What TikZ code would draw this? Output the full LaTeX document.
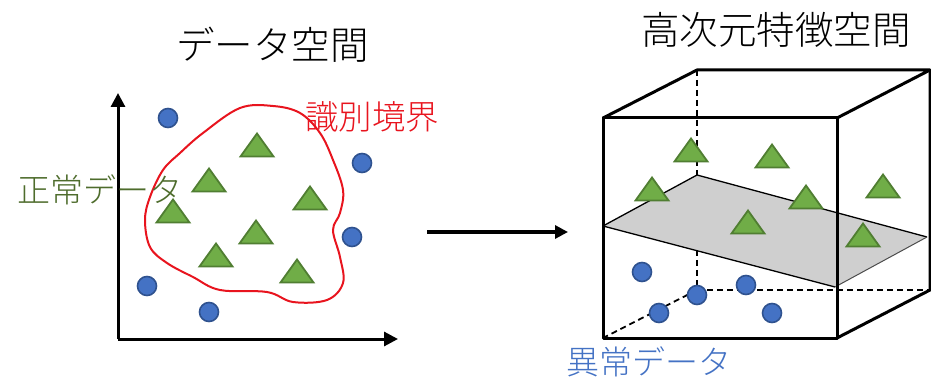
\documentclass[tikz,border=0pt]{standalone}
\usepackage{fontspec}
\IfFontExistsTF{Noto Sans CJK JP Light}{\setmainfont{Noto Sans CJK JP Light}}{\setmainfont{Noto Sans CJK JP}}
\usetikzlibrary{arrows.meta}
\definecolor{tgreen}{RGB}{112,173,71}
\definecolor{tgreenb}{RGB}{80,126,50}
\definecolor{cblue}{RGB}{68,114,196}
\definecolor{cblueb}{RGB}{47,82,143}
\definecolor{lred}{RGB}{232,20,30}
\definecolor{lgreen}{RGB}{78,108,44}
\begin{document}
\begin{tikzpicture}[x=1pt,y=-1pt,
  dot/.style={circle,fill=cblue,draw=cblueb,line width=1.6pt,minimum size=19pt,inner sep=0pt},
  lbl/.style={inner sep=0pt,anchor=west},
  edge3/.style={line width=3pt,black},
  hid/.style={line width=1.8pt,black,dash pattern=on 6pt off 4pt}]
\useasboundingbox (0,0) rectangle (931,379);
\newcommand{\tri}[2]{\filldraw[fill=tgreen,draw=tgreenb,line width=1.8pt,line join=miter] (#1-16.5,#2+11.5) -- (#1,#2-11.5) -- (#1+16.5,#2+11.5) -- cycle;}
% titles
\node[lbl,font=\fontsize{38.5}{40}\selectfont] (t1) at (176,45) {データ空間};
\node[lbl,font=\fontsize{38.5}{40}\selectfont] (t2) at (641,30) {高次元特徴空間};
% left axes
\coordinate (o) at (118,339);
\coordinate (ytop) at (118,93);
\coordinate (xend) at (398,339);
\draw[line width=3pt,-{Triangle[length=14pt,width=14pt]}] (o) -- (ytop);
\draw[line width=3pt,-{Triangle[length=14pt,width=14pt]}] (o) -- (xend);
% red boundary
\draw[lred,line width=2pt] plot[smooth cycle,tension=0.6] coordinates {
 (203,133) (240,108) (273,106) (300,113) (320,133) (333,160) (343,190) (340,213)
 (333,230) (340,257) (343,283) (327,300) (293,302) (267,292) (220,290) (193,277)
 (167,263) (150,247) (145,220) (150,197) (163,170) (180,153)};
% left dots
\node[dot] (a1) at (168,118) {};
\node[dot] (a2) at (362,163) {};
\node[dot] (a3) at (352,237) {};
\node[dot] (a4) at (147,286) {};
\node[dot] (a5) at (209,312) {};
% left triangles
\tri{257}{145}
\tri{209}{180}
\tri{173}{211}
\tri{310}{198}
\tri{256}{232}
\tri{216}{255}
\tri{297}{271}
% labels
\node[lbl,text=lred,font=\fontsize{33.5}{35}\selectfont] (l1) at (305,117) {識別境界};
\node[lbl,text=lgreen,font=\fontsize{33}{35}\selectfont] (l2) at (17,190) {正常データ};
% middle arrow
\coordinate (m1) at (427,232);
\coordinate (m2) at (568,232);
\draw[line width=3.2pt,-{Triangle[length=13pt,width=13pt]}] (m1) -- (m2);
% cube
\coordinate (f1) at (603,118);
\coordinate (f2) at (837,118);
\coordinate (f3) at (837,338);
\coordinate (f4) at (603,338);
\coordinate (b1) at (697,70);
\coordinate (b2) at (930,70);
\coordinate (b3) at (930,290);
\coordinate (b4) at (697,290);
\draw[hid] (b1) -- (b4);
\draw[hid] (b4) -- (b3);
\draw[hid] (b4) -- (f4);
% plane
\coordinate (p1) at (603,226);
\coordinate (p2) at (697,175);
\coordinate (p3) at (927,237);
\coordinate (p4) at (835,287);
\fill[gray!38] (p1) -- (p2) -- (p3) -- (p4) -- cycle;
\draw[line width=1.3pt] (p1) -- (p2) -- (p3);
\draw[line width=1.3pt] (p1) -- (p4);
\draw[gray!60!black,line width=1pt] (p3) -- (p4);
% cube solid edges
\draw[edge3,line join=round] (f1) -- (f2) -- (f3) -- (f4) -- cycle;
\draw[edge3,line join=round] (f1) -- (b1) -- (b2) -- (f2);
\draw[edge3,line join=round] (b2) -- (b3) -- (f3);
% right triangles
\tri{691}{150}
\tri{772}{156}
\tri{652}{189}
\tri{806}{197}
\tri{883}{186}
\tri{748}{222}
\tri{863}{235}
% right dots
\node[dot] (c1) at (642,272) {};
\node[dot] (c2) at (697,295) {};
\node[dot] (c3) at (746,285) {};
\node[dot] (c4) at (659,313) {};
\node[dot] (c5) at (772,313) {};
\node[lbl,text=cblue,font=\fontsize{33}{35}\selectfont] (l3) at (566,362) {異常データ};
\end{tikzpicture}
\end{document}
